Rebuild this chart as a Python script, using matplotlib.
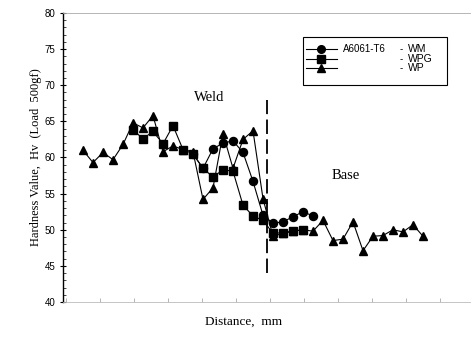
import matplotlib
matplotlib.use("Agg")
import matplotlib.pyplot as plt
from matplotlib.lines import Line2D
from matplotlib.patches import Rectangle
import numpy as np

# ---- data (x = measurement position index, y = hardness Hv) ----
wp_x = list(range(0, 35))
wp_y = [61.0, 59.3, 60.7, 59.7, 61.8, 64.8, 64.1, 65.8, 60.8, 61.6,
        61.1, 60.8, 54.2, 55.8, 63.3, 58.5, 62.5, 63.7, 54.3, 49.1,
        49.5, 49.8, 50.0, 49.8, 51.3, 48.5, 48.7, 51.1, 47.1, 49.1,
        49.2, 50.0, 49.7, 50.7, 49.1]

wpg_x = list(range(5, 23))
wpg_y = [63.8, 62.6, 63.6, 61.9, 64.4, 61.1, 60.5, 58.5, 57.3, 58.3,
         58.1, 53.4, 51.9, 51.3, 49.5, 49.6, 49.8, 50.0]

wm_x = list(range(11, 24))
wm_y = [60.5, 58.5, 61.2, 62.0, 62.3, 60.7, 56.7, 52.0, 50.9, 51.1,
        51.8, 52.5, 51.9]

boundary_x = 18.4
yticks = [40, 45, 50, 55, 60, 65, 70, 75, 80]

sans = ["Liberation Sans", "DejaVu Sans"]
serif = ["Liberation Serif", "DejaVu Serif"]

fig = plt.figure(figsize=(4.72, 3.37), dpi=100)
ax = fig.add_axes([63/472, 1-302/337, (470-63)/472, (302-13)/337])

kw = dict(color="black", lw=0.8, markersize=5.8)
ax.plot(wm_x, wm_y, marker="o", **kw)
ax.plot(wpg_x, wpg_y, marker="s", **kw)
ax.plot(wp_x, wp_y, marker="^", **kw)

ax.plot([boundary_x, boundary_x], [44.0, 68.0], color="black", lw=1.3,
        dashes=(8, 3))

ax.set_ylim(40, 80)
ax.set_xlim(-2.0, 38.7)
ax.set_yticks(yticks)
ax.set_yticklabels([str(v) for v in yticks], family=sans, fontsize=7)
ax.set_xticks(np.arange(-1.7, 36.5, 3.4))
ax.set_xticklabels([])
ax.tick_params(axis="y", direction="inout", length=5, width=0.8, pad=3)
ax.tick_params(axis="x", direction="in", length=3, width=0.5, color="#999999")
ax.minorticks_on()
ax.tick_params(axis="y", which="minor", direction="in", length=2, width=0.5)
ax.tick_params(axis="x", which="minor", length=0)

ax.spines["right"].set_visible(False)
ax.spines["top"].set_color("#aaaaaa")
ax.spines["top"].set_linewidth(0.6)
ax.spines["bottom"].set_color("#bbbbbb")
ax.spines["bottom"].set_linewidth(0.6)
ax.spines["left"].set_linewidth(1.0)

ax.set_ylabel("Hardness Value,  Hv  (Load  500gf)", family=serif, fontsize=9,
              labelpad=2)
fig.text(0.515, 0.035, "Distance,  mm", family=serif, fontsize=9.5, ha="center")

ax.text(0.322, 0.709, "Weld", transform=ax.transAxes, family=serif,
        fontsize=10.5, ha="left", va="center")
ax.text(0.661, 0.436, "Base", transform=ax.transAxes, family=serif,
        fontsize=10.5, ha="left", va="center")

# legend box
ax.add_patch(Rectangle((0.590, 0.751), 0.353, 0.166, transform=ax.transAxes,
                       fill=False, lw=0.8, edgecolor="black"))
rows = [(0.875, "o", "A6061-T6", "WM"), (0.841, "s", "", "WPG"),
        (0.810, "^", "", "WP")]
for yy, mk, pre, lab in rows:
    ax.add_line(Line2D([0.597, 0.673], [yy, yy], transform=ax.transAxes,
                       color="black", lw=0.8))
    ax.add_line(Line2D([0.634], [yy], transform=ax.transAxes, marker=mk,
                       color="black", markersize=5.5))
    if pre:
        ax.text(0.688, yy, pre, transform=ax.transAxes, family=sans,
                fontsize=7, va="center")
    ax.text(0.826, yy, "-", transform=ax.transAxes, family=sans,
            fontsize=7, va="center")
    ax.text(0.848, yy, lab, transform=ax.transAxes, family=sans,
            fontsize=7.5, va="center")

fig.savefig("out.png", dpi=100)
